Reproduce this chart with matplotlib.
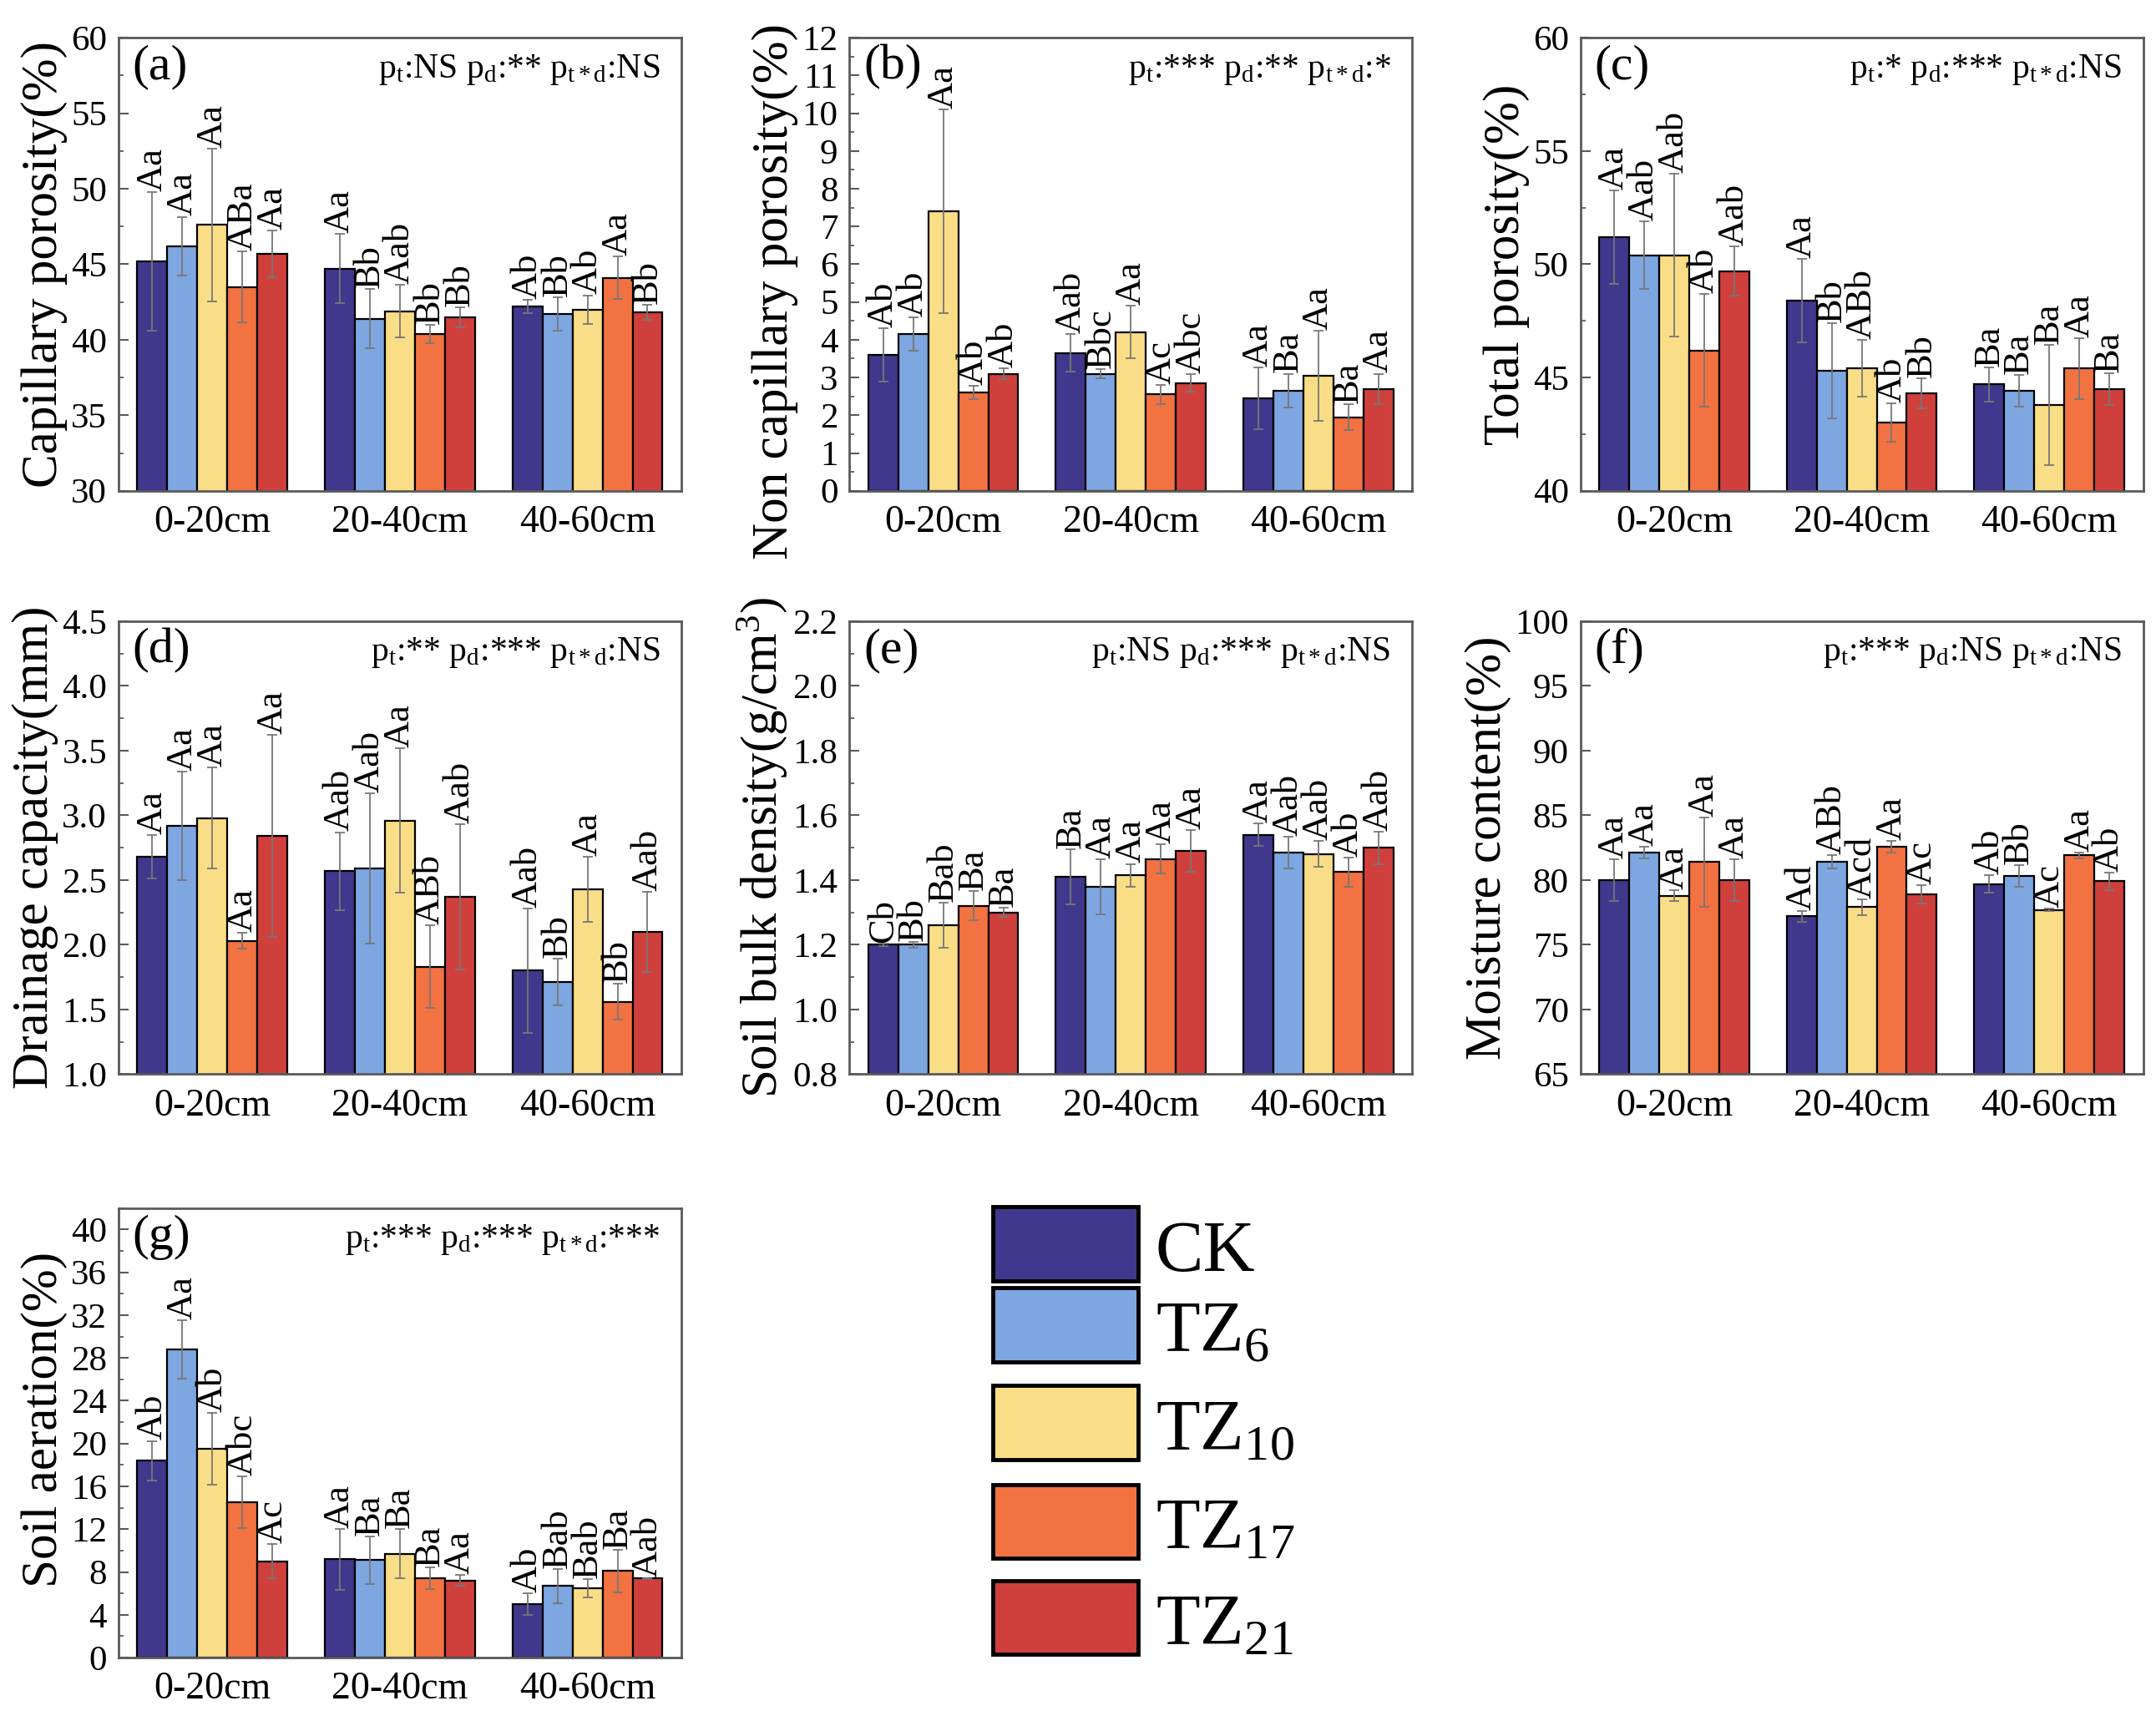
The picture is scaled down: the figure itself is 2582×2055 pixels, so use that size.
import numpy as np
import matplotlib
matplotlib.use("Agg")
import matplotlib.pyplot as plt
from matplotlib.patches import Rectangle
from matplotlib.ticker import MultipleLocator, FormatStrFormatter

plt.rcParams['font.family'] = ['Liberation Serif', 'DejaVu Serif']
plt.rcParams['mathtext.fontset'] = 'custom'
plt.rcParams['mathtext.rm'] = 'Liberation Serif'
plt.rcParams['mathtext.it'] = 'Liberation Serif:italic'

depths = ['0-20cm', '20-40cm', '40-60cm']
treatments = ['CK', 'TZ6', 'TZ10', 'TZ17', 'TZ21']
legend_labels = ['CK', r'TZ$_{\mathrm{6}}$', r'TZ$_{\mathrm{10}}$', r'TZ$_{\mathrm{17}}$', r'TZ$_{\mathrm{21}}$']
colors = ['#40388C', '#7EA6E0', '#FADD87', '#F27242', '#CF403D']

# rows = depth, cols = treatment (CK, TZ6, TZ10, TZ17, TZ21)
cap_mean = [[45.2, 46.2, 47.6, 43.5, 45.7],
            [44.7, 41.4, 41.9, 40.4, 41.5],
            [42.2, 41.7, 42.0, 44.1, 41.8]]
cap_err = [[4.6, 1.95, 5.05, 2.35, 1.55],
           [2.3, 1.95, 1.75, 0.6, 0.65],
           [0.45, 1.1, 0.95, 1.4, 0.5]]
cap_let = [['Aa', 'Aa', 'Aa', 'ABa', 'Aa'],
           ['Aa', 'Bb', 'Aab', 'Bb', 'Bb'],
           ['Ab', 'Bb', 'Ab', 'Aa', 'Bb']]

ncap_mean = [[3.6, 4.15, 7.4, 2.6, 3.1],
             [3.65, 3.1, 4.2, 2.55, 2.85],
             [2.45, 2.65, 3.05, 1.95, 2.7]]
ncap_err = [[0.7, 0.45, 2.7, 0.17, 0.15],
            [0.5, 0.13, 0.7, 0.25, 0.23],
            [0.82, 0.45, 1.2, 0.35, 0.4]]
ncap_let = [['Ab', 'Ab', 'Aa', 'Ab', 'Ab'],
            ['Aab', 'Bbc', 'Aa', 'Ac', 'Abc'],
            ['Aa', 'Ba', 'Aa', 'Ba', 'Aa']]

tot_mean = [[51.2, 50.4, 50.4, 46.2, 49.7],
            [48.4, 45.3, 45.4, 43.0, 44.3],
            [44.7, 44.4, 43.8, 45.4, 44.5]]
tot_err = [[2.05, 1.5, 3.6, 2.5, 1.1],
           [1.85, 2.1, 1.25, 0.85, 0.65],
           [0.75, 0.7, 2.65, 1.35, 0.7]]
tot_let = [['Aa', 'Aab', 'Aab', 'Ab', 'Aab'],
           ['Aa', 'Bb', 'ABb', 'Ab', 'Bb'],
           ['Ba', 'Ba', 'Ba', 'Aa', 'Ba']]

dra_mean = [[2.68, 2.92, 2.98, 2.03, 2.84],
            [2.57, 2.59, 2.96, 1.83, 2.37],
            [1.80, 1.71, 2.43, 1.56, 2.10]]
dra_err = [[0.17, 0.42, 0.39, 0.06, 0.78],
           [0.30, 0.58, 0.56, 0.32, 0.56],
           [0.48, 0.18, 0.25, 0.14, 0.31]]
dra_let = [['Aa', 'Aa', 'Aa', 'Aa', 'Aa'],
           ['Aab', 'Aab', 'Aa', 'ABb', 'Aab'],
           ['Aab', 'Bb', 'Aa', 'Bb', 'Aab']]

bd_mean = [[1.20, 1.20, 1.26, 1.32, 1.30],
           [1.41, 1.38, 1.415, 1.465, 1.49],
           [1.54, 1.485, 1.48, 1.425, 1.50]]
bd_err = [[0.004, 0.008, 0.07, 0.045, 0.015],
          [0.085, 0.085, 0.035, 0.045, 0.065],
          [0.035, 0.05, 0.04, 0.045, 0.05]]
bd_let = [['Cb', 'Bb', 'Bab', 'Ba', 'Ba'],
          ['Ba', 'Aa', 'Aa', 'Aa', 'Aa'],
          ['Aa', 'Aab', 'Aab', 'Ab', 'Aab']]

mc_mean = [[80.0, 82.1, 78.8, 81.4, 80.0],
           [77.2, 81.4, 77.9, 82.6, 78.9],
           [79.7, 80.3, 77.7, 81.9, 79.9]]
mc_err = [[1.6, 0.45, 0.4, 3.45, 1.6],
          [0.4, 0.5, 0.6, 0.45, 0.7],
          [0.7, 0.85, 0.1, 0.2, 0.65]]
mc_let = [['Aa', 'Aa', 'Aa', 'Aa', 'Aa'],
          ['Ad', 'ABb', 'Acd', 'Aa', 'Ac'],
          ['Ab', 'Bb', 'Ac', 'Aa', 'Ab']]

air_mean = [[18.4, 28.8, 19.5, 14.5, 9.0],
            [9.2, 9.1, 9.7, 7.4, 7.2],
            [5.0, 6.7, 6.5, 8.1, 7.4]]
air_err = [[1.85, 2.75, 3.35, 2.4, 1.6],
           [2.85, 2.25, 2.3, 1.0, 0.5],
           [1.0, 1.6, 0.85, 2.0, 0.05]]
air_let = [['Ab', 'Aa', 'Ab', 'Abc', 'Ac'],
           ['Aa', 'Ba', 'Ba', 'Ba', 'Aa'],
           ['Ab', 'Bab', 'Bab', 'Ba', 'Aab']]

panels = [
    ('(a)', 'Capillary porosity(%)', cap_mean, cap_err, cap_let, (30, 60), 5, 2.5,
     r'p$_{\mathrm{t}}$:NS p$_{\mathrm{d}}$:** p$_{\mathrm{t*d}}$:NS', '%d', 0.5),
    ('(b)', 'Non capillary porosity(%)', ncap_mean, ncap_err, ncap_let, (0, 12), 1, 0.5,
     r'p$_{\mathrm{t}}$:*** p$_{\mathrm{d}}$:** p$_{\mathrm{t*d}}$:*', '%d', 0.44),
    ('(c)', 'Total porosity(%)', tot_mean, tot_err, tot_let, (40, 60), 5, 2.5,
     r'p$_{\mathrm{t}}$:* p$_{\mathrm{d}}$:*** p$_{\mathrm{t*d}}$:NS', '%d', 0.5),
    ('(d)', 'Drainage capacity(mm)', dra_mean, dra_err, dra_let, (1.0, 4.5), 0.5, 0.25,
     r'p$_{\mathrm{t}}$:** p$_{\mathrm{d}}$:*** p$_{\mathrm{t*d}}$:NS', '%.1f', 0.5),
    ('(e)', r'Soil bulk density(g/cm$^{\mathrm{3}}$)', bd_mean, bd_err, bd_let, (0.8, 2.2), 0.2, 0.1,
     r'p$_{\mathrm{t}}$:NS p$_{\mathrm{d}}$:*** p$_{\mathrm{t*d}}$:NS', '%.1f', 0.5),
    ('(f)', 'Moisture content(%)', mc_mean, mc_err, mc_let, (65, 100), 5, None,
     r'p$_{\mathrm{t}}$:*** p$_{\mathrm{d}}$:NS p$_{\mathrm{t*d}}$:NS', '%d', 0.5),
    ('(g)', 'Soil aeration(%)', air_mean, air_err, air_let, (0, 42), 4, 2,
     r'p$_{\mathrm{t}}$:*** p$_{\mathrm{d}}$:*** p$_{\mathrm{t*d}}$:***', '%d', 0.53),
]

col_left = [0.055, 0.394, 0.733]
row_bottom = [0.714, 0.374, 0.034]
ax_w = 0.261
positions = [
    [col_left[0], row_bottom[0], ax_w, 0.264], [col_left[1], row_bottom[0], ax_w, 0.264],
    [col_left[2], row_bottom[0], ax_w, 0.264],
    [col_left[0], row_bottom[1], ax_w, 0.264], [col_left[1], row_bottom[1], ax_w, 0.264],
    [col_left[2], row_bottom[1], ax_w, 0.264],
    [col_left[0], row_bottom[2], ax_w, 0.262],
]

fig = plt.figure(figsize=(25.82, 20.55), dpi=100)

x = np.arange(len(depths)) + 1
w = 0.16
spine_col = '#5a5a5a'

for (tag, ylab, mean, err, lets, ylim, major, minor, ptxt, fmt, label_y), pos in zip(panels, positions):
    ax = fig.add_axes(pos)
    mean = np.array(mean)
    err = np.array(err)
    span = ylim[1] - ylim[0]
    for j in range(len(treatments)):
        xs = x + (j - 2) * w
        ax.bar(xs, mean[:, j], w, bottom=0, color=colors[j], edgecolor='black',
               linewidth=1.6, zorder=2)
        ax.errorbar(xs, mean[:, j], yerr=err[:, j], fmt='none', ecolor='#777777',
                    elinewidth=1.3, capsize=4, capthick=1.3, zorder=3)
        for i in range(len(depths)):
            ax.text(xs[i], mean[i, j] + err[i, j] + span * 0.002, lets[i][j],
                    rotation=90, ha='center', va='bottom', fontsize=32, zorder=4)
    ax.set_ylim(*ylim)
    ax.set_xlim(0.5, 3.5)
    ax.set_xticks(x)
    ax.set_xticklabels(depths)
    ax.yaxis.set_major_locator(MultipleLocator(major))
    if minor:
        ax.yaxis.set_minor_locator(MultipleLocator(minor))
    ax.yaxis.set_major_formatter(FormatStrFormatter(fmt))
    ax.tick_params(axis='x', length=0, labelsize=33, pad=12)
    ax.tick_params(axis='y', which='major', direction='in', length=8.5, width=1.5,
                   labelsize=31, pad=10, color=spine_col)
    ax.tick_params(axis='y', which='minor', direction='in', length=4, width=1.3,
                   color=spine_col)
    for s in ax.spines.values():
        s.set_color(spine_col)
        s.set_linewidth(2)
    ax.set_ylabel(ylab, fontsize=44, labelpad=3)
    # keep automatic x placement, only move the label along the axis
    ax.yaxis.label.set_y(label_y)
    ax.text(0.025, 0.985, tag, transform=ax.transAxes, ha='left', va='top', fontsize=43)
    ax.text(0.962, 0.968, ptxt, transform=ax.transAxes, ha='right', va='top', fontsize=30)

# legend drawn as boxes in figure coordinates
lax = fig.add_axes([0, 0, 1, 1])
lax.set_xlim(0, 1)
lax.set_ylim(0, 1)
lax.axis('off')
box_bottom = [0.2536, 0.2064, 0.1496, 0.092, 0.036]
box_h = 0.043
for yb, c, lab in zip(box_bottom, colors, legend_labels):
    lax.add_patch(Rectangle((0.4605, yb), 0.0675, box_h, facecolor=c, edgecolor='black',
                            linewidth=3.5))
    lax.text(0.536, yb + 0.006, lab, ha='left', va='baseline', fontsize=62)

fig.savefig('out.png', dpi=100)
